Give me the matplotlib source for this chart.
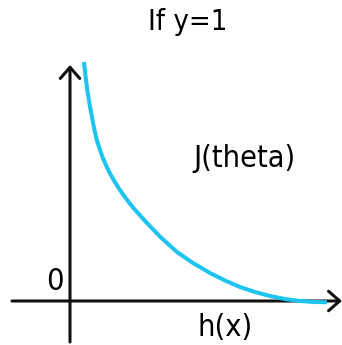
#!/usr/bin/env python3
import matplotlib

matplotlib.use("Agg")
import matplotlib.pyplot as plt

# cost curve for y=1 (h(x) on x, J on y)
H_VALUES = [0.056, 0.062, 0.0692, 0.0788, 0.09, 0.098, 0.1072, 0.118, 0.13,
            0.1436, 0.1588, 0.1784, 0.1996, 0.2256, 0.2536, 0.304, 0.3616,
            0.428, 0.492, 0.56, 0.62, 0.68, 0.74, 0.8, 0.86, 0.92, 0.98,
            1.028]
J_VALUES = [0.956, 0.9, 0.844, 0.784, 0.724, 0.684, 0.644, 0.61, 0.576,
            0.544, 0.512, 0.478, 0.444, 0.408, 0.372, 0.316, 0.256, 0.196,
            0.152, 0.112, 0.082, 0.056, 0.036, 0.02, 0.008, 0.0, -0.004,
            -0.005]

TITLE = "If y=1"
CURVE_LABEL = "J(theta)"
X_LABEL = "h(x)"
ZERO_LABEL = "0"

CURVE_COLOR = "#1CC4EF"
AXIS_COLOR = "#111111"

W_PX, H_PX = 342, 345
ORIGIN_PX = (70, 301)
SCALE = 250.0  # pixels per data unit

plt.rcParams["font.family"] = ["DejaVu Sans"]
plt.rcParams["font.stretch"] = "condensed"

fig = plt.figure(figsize=(W_PX / 100, H_PX / 100), dpi=100)
ax = fig.add_axes([0, 0, 1, 1])
ax.set_xlim(-ORIGIN_PX[0] / SCALE, (W_PX - ORIGIN_PX[0]) / SCALE)
ax.set_ylim(-(H_PX - ORIGIN_PX[1]) / SCALE, ORIGIN_PX[1] / SCALE)
ax.axis("off")

arrow = dict(arrowstyle="->,head_length=0.4,head_width=0.35", lw=2.2,
             color=AXIS_COLOR, mutation_scale=20, shrinkA=0, shrinkB=0)
ax.annotate("", xy=(0, 0.944), xytext=(0, -0.164), arrowprops=arrow)
ax.annotate("", xy=(1.088, 0), xytext=(-0.232, 0), arrowprops=arrow)

ax.plot(H_VALUES, J_VALUES, color=CURVE_COLOR, lw=2.9,
        solid_capstyle="butt", solid_joinstyle="round", zorder=3)

ax.text(0.70, 0.57, CURVE_LABEL, fontsize=22, ha="center", va="center")
ax.text(-0.06, 0.08, ZERO_LABEL, fontsize=22, ha="center", va="center")
ax.text(0.62, -0.105, X_LABEL, fontsize=22, ha="center", va="center")
fig.text(187.5 / W_PX, 1 - 22 / H_PX, TITLE, fontsize=21, ha="center", va="center")

fig.savefig("out.png", dpi=100)
